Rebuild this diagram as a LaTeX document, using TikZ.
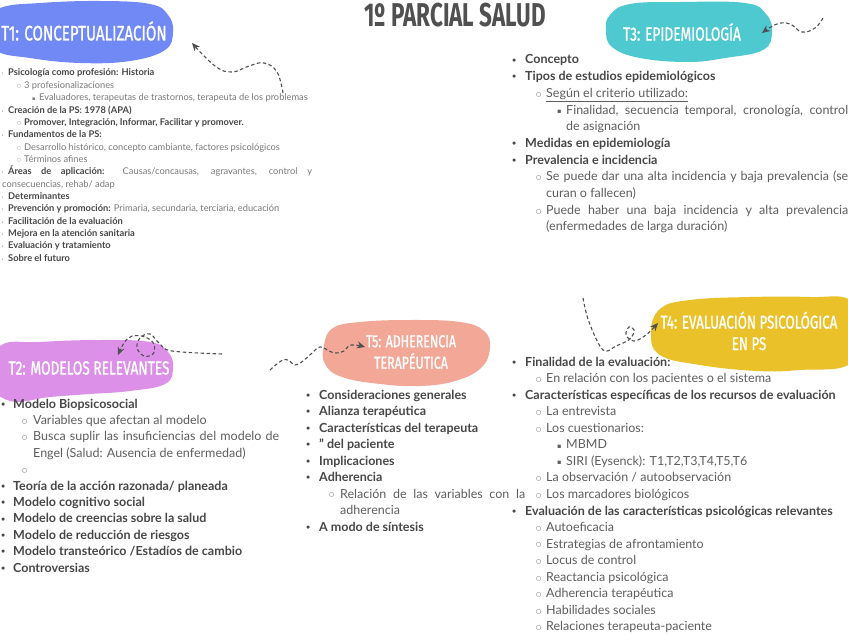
\documentclass[tikz,border=0pt]{standalone}
\usepackage{fontspec}
\setmainfont{Lato}
\newfontfamily\hfont[FakeStretch=0.72,FakeBold=1]{Fira Sans}
\newfontfamily\tfont[FakeStretch=0.68]{Fira Sans}
\newfontfamily\djv{DejaVu Sans}
\usetikzlibrary{arrows.meta}
\definecolor{t1c}{HTML}{7089F5}
\definecolor{t2c}{HTML}{DC90E8}
\definecolor{t3c}{HTML}{4FC9D0}
\definecolor{t4c}{HTML}{EBC12A}
\definecolor{t5c}{HTML}{F3A797}
\definecolor{dk}{HTML}{474747}
\definecolor{rg}{HTML}{5E5E5E}
\definecolor{lt}{HTML}{7A7A7A}
\definecolor{arc}{HTML}{505050}
% bullets
\newcommand\BA{\raisebox{-0.3pt}{\color{dk}\djv\fontsize{10.5}{10.5}\selectfont •}}
\newcommand\BB{\raisebox{1.2pt}{\djv\fontsize{6}{6}\selectfont ○}}
\newcommand\BC{\raisebox{0.8pt}{\djv\fontsize{6.5}{6.5}\selectfont ▪}}
\newcommand\BS{{\color{lt!60}\djv\fontsize{5}{5}\selectfont •}}
\newcommand\BBs{\raisebox{0.9pt}{\djv\fontsize{4.5}{4.5}\selectfont ○}}
\newcommand\BCs{\raisebox{0.6pt}{\djv\fontsize{5}{5}\selectfont ▪}}
% line: text x, bullet x, bullet, text
\newcommand\Ln[4]{\hbox{\rlap{\hspace*{#2pt}#3}\hspace*{#1pt}#4}}
% justified line
\newcommand\Lj[4]{\hbox to \linewidth{\rlap{\hspace*{#2pt}#3}\hspace*{#1pt}#4}}
\newcommand\B[1]{{\color{dk}\bfseries #1}}
\tikzset{
  head/.style={font=\hfont\fontsize{20}{22}\selectfont, text=white, align=center, inner sep=0pt},
  titl/.style={font=\tfont\bfseries\fontsize{33}{35}\selectfont, text=arc, inner sep=0pt},
  lst/.style={anchor=base west, inner sep=0pt, text=rg},
  darr/.style={draw=arc, line width=1.1pt, dash pattern=on 3.5pt off 2.5pt, -{Stealth[length=8pt,width=7pt]}}
}
\begin{document}
\begin{tikzpicture}[x=1pt,y=-1pt]
\useasboundingbox (0,0) rectangle (848,636);
\fill[white] (0,0) rectangle (848,636);
% blobs
\fill[t1c] plot[smooth cycle, tension=0.7] coordinates {(-20,25) (0,8) (40,3) (100,1) (150,4) (168,15) (173,32) (165,50) (130,61) (80,63) (30,58) (-5,50)};
\fill[t3c] plot[smooth cycle, tension=0.7] coordinates {(610,15) (630,4) (680,2) (745,3) (766,14) (772,32) (763,50) (725,58) (688,62) (640,58) (612,47) (606,30)};
\fill[t2c] plot[smooth cycle, tension=0.7] coordinates {(0,346) (40,342) (100,340) (150,342) (168,352) (173,368) (165,384) (130,391) (90,394) (50,397) (10,401) (-10,380)};
\fill[t5c] plot[smooth cycle, tension=0.7] coordinates {(324,345) (333,328) (360,322) (410,320) (460,322) (484,331) (490,348) (481,368) (455,381) (420,386) (380,384) (342,377) (325,364)};
\fill[t4c] plot[smooth cycle, tension=0.7] coordinates {(651,333) (660,309) (690,300) (750,297) (810,297) (850,300) (862,330) (850,364) (800,370) (757,371) (700,365) (660,355)};
% headings
\node[titl] (title) at (455,15) {1º PARCIAL SALUD};
\node[head, font=\hfont\fontsize{21}{22}\selectfont] (t1) at (84,31) {T1: CONCEPTUALIZACIÓN};
\node[head, font=\hfont\fontsize{19}{22}\selectfont] (t3) at (682,32) {T3: EPIDEMIOLOGÍA};
\node[head, font=\hfont\fontsize{19}{22}\selectfont] (t2) at (89,368) {T2: MODELOS RELEVANTES};
\node[head, font=\hfont\fontsize{17.2}{21.5}\selectfont] (t5) at (411,352) {T5: ADHERENCIA\\TERAPÉUTICA};
\node[head, font=\hfont\fontsize{18.5}{21.5}\selectfont] (t4) at (749,331) {T4: EVALUACIÓN PSICOLÓGICA\\EN PS};
% arrows
\coordinate (a1s) at (283,93); \coordinate (a1e) at (192,43);
\draw[darr] plot[smooth, tension=0.7] coordinates {(a1s) (277,72) (264,63) (249,66) (232,72) (215,66) (a1e)};
\coordinate (a3s) at (823,18); \coordinate (a3e) at (762,33);
\draw[darr] plot[smooth, tension=0.7] coordinates {(a3s) (815,28) (802,32) (790,24) (777,24) (a3e)};
\coordinate (a2s) at (222,354); \coordinate (a2e) at (118,355);
\draw[darr] plot[smooth, tension=0.6] coordinates {(a2s) (172,351) (160,344) (150,334) (140,338) (137,348) (144,356) (153,354) (154,344) (145,337) (132,336) (124,343) (a2e)};
\coordinate (a5s) at (270,370); \coordinate (a5e) at (365,347);
\draw[darr] plot[smooth, tension=0.7] coordinates {(a5s) (281,361) (288,360) (295,365) (303,361) (311,354) (320,347) (329,351) (336,353) (344,351) (351,345) (a5e)};
\coordinate (a4s) at (583,298); \coordinate (a4e) at (658,323);
\draw[darr] plot[smooth, tension=0.6] coordinates {(a4s) (589,322) (603,350) (616,346) (630,339) (634,330) (629,327) (626,335) (634,341) (646,335) (a4e)};
% T1 list
\node[lst, text=lt] (l1) at (0,76) {\begin{minipage}[t]{312pt}\fontsize{9.3}{12.35}\selectfont
\Ln{8}{1}{\BS}{\B{Psicología como profesión: Historia}}
\Ln{24}{17}{\BBs}{3 profesionalizaciones}
\Ln{39}{32}{\BCs}{Evaluadores, terapeutas de trastornos, terapeuta de los problemas}
\Ln{8}{1}{\BS}{\B{Creación de la PS: 1978 (APA)}}
\Ln{24}{17}{\BBs}{\B{Promover, Integración, Informar, Facilitar y promover.}}
\Ln{8}{1}{\BS}{\B{Fundamentos de la PS:}}
\Ln{24}{17}{\BBs}{Desarrollo histórico, concepto cambiante, factores psicológicos}
\Ln{24}{17}{\BBs}{Términos afines}
\Lj{8}{1}{\BS}{\B{Áreas de aplicación:} Causas/concausas, agravantes, control y}
\Ln{2}{0}{}{consecuencias, rehab/ adap}
\Ln{8}{1}{\BS}{\B{Determinantes}}
\Ln{8}{1}{\BS}{\B{Prevención y promoción:} Primaria, secundaria, terciaria, educación}
\Ln{8}{1}{\BS}{\B{Facilitación de la evaluación}}
\Ln{8}{1}{\BS}{\B{Mejora en la atención sanitaria}}
\Ln{8}{1}{\BS}{\B{Evaluación y tratamiento}}
\Ln{8}{1}{\BS}{\B{Sobre el futuro}}
\end{minipage}};
% T3 list
\node[lst] (l3) at (505,64) {\begin{minipage}[t]{343pt}\fontsize{12.5}{16.7}\selectfont
\Ln{20}{6}{\BA}{\B{Concepto}}
\Ln{20}{6}{\BA}{\B{Tipos de estudios epidemiológicos}}
\Ln{41}{31}{\BB}{\underline{Según el criterio utilizado:}}
\Lj{61}{52}{\BC}{Finalidad, secuencia temporal, cronología, control}
\Ln{61}{0}{}{de asignación}
\Ln{20}{6}{\BA}{\B{Medidas en epidemiología}}
\Ln{20}{6}{\BA}{\B{Prevalencia e incidencia}}
\Lj{41}{31}{\BB}{Se puede dar una alta incidencia y baja prevalencia (se}
\Ln{41}{0}{}{curan o fallecen)}
\Lj{41}{31}{\BB}{Puede haber una baja incidencia y alta prevalencia}
\Ln{41}{0}{}{(enfermedades de larga duración)}
\end{minipage}};
% T2 list
\node[lst] (l2) at (0,408) {\begin{minipage}[t]{279pt}\fontsize{12.5}{16.4}\selectfont
\Ln{13}{0}{\BA}{\B{Modelo Biopsicosocial}}
\Ln{33}{22}{\BB}{Variables que afectan al modelo}
\Lj{33}{22}{\BB}{Busca suplir las insuficiencias del modelo de}
\Ln{33}{0}{}{Engel (Salud: Ausencia de enfermedad)}
\Ln{33}{22}{\BB}{}
\Ln{13}{0}{\BA}{\B{Teoría de la acción razonada/ planeada}}
\Ln{13}{0}{\BA}{\B{Modelo cognitivo social}}
\Ln{13}{0}{\BA}{\B{Modelo de creencias sobre la salud}}
\Ln{13}{0}{\BA}{\B{Modelo de reducción de riesgos}}
\Ln{13}{0}{\BA}{\B{Modelo transteórico /Estadíos de cambio}}
\Ln{13}{0}{\BA}{\B{Controversias}}
\end{minipage}};
% T5 list
\node[lst] (l5) at (300,399) {\begin{minipage}[t]{225pt}\fontsize{12.5}{16.5}\selectfont
\Ln{19}{5}{\BA}{\B{Consideraciones generales}}
\Ln{19}{5}{\BA}{\B{Alianza terapéutica}}
\Ln{19}{5}{\BA}{\B{Características del terapeuta}}
\Ln{19}{5}{\BA}{\B{" del paciente}}
\Ln{19}{5}{\BA}{\B{Implicaciones}}
\Ln{19}{5}{\BA}{\B{Adherencia}}
\Lj{40}{29}{\BB}{Relación de las variables con la}
\Ln{40}{0}{}{adherencia}
\Ln{19}{5}{\BA}{\B{A modo de síntesis}}
\end{minipage}};
% T4 list
\node[lst] (l4) at (505,366) {\begin{minipage}[t]{343pt}\fontsize{12.5}{16.56}\selectfont
\Ln{20}{6}{\BA}{\B{Finalidad de la evaluación:}}
\Ln{41}{31}{\BB}{En relación con los pacientes o el sistema}
\Ln{20}{6}{\BA}{\B{Características específicas de los recursos de evaluación}}
\Ln{41}{31}{\BB}{La entrevista}
\Ln{41}{31}{\BB}{Los cuestionarios:}
\Ln{61}{52}{\BC}{MBMD}
\Ln{61}{52}{\BC}{SIRI (Eysenck): T1,T2,T3,T4,T5,T6}
\Ln{41}{31}{\BB}{La observación / autoobservación}
\Ln{41}{31}{\BB}{Los marcadores biológicos}
\Ln{20}{6}{\BA}{\B{Evaluación de las características psicológicas relevantes}}
\Ln{41}{31}{\BB}{Autoeficacia}
\Ln{41}{31}{\BB}{Estrategias de afrontamiento}
\Ln{41}{31}{\BB}{Locus de control}
\Ln{41}{31}{\BB}{Reactancia psicológica}
\Ln{41}{31}{\BB}{Adherencia terapéutica}
\Ln{41}{31}{\BB}{Habilidades sociales}
\Ln{41}{31}{\BB}{Relaciones terapeuta-paciente}
\end{minipage}};
\end{tikzpicture}
\end{document}
